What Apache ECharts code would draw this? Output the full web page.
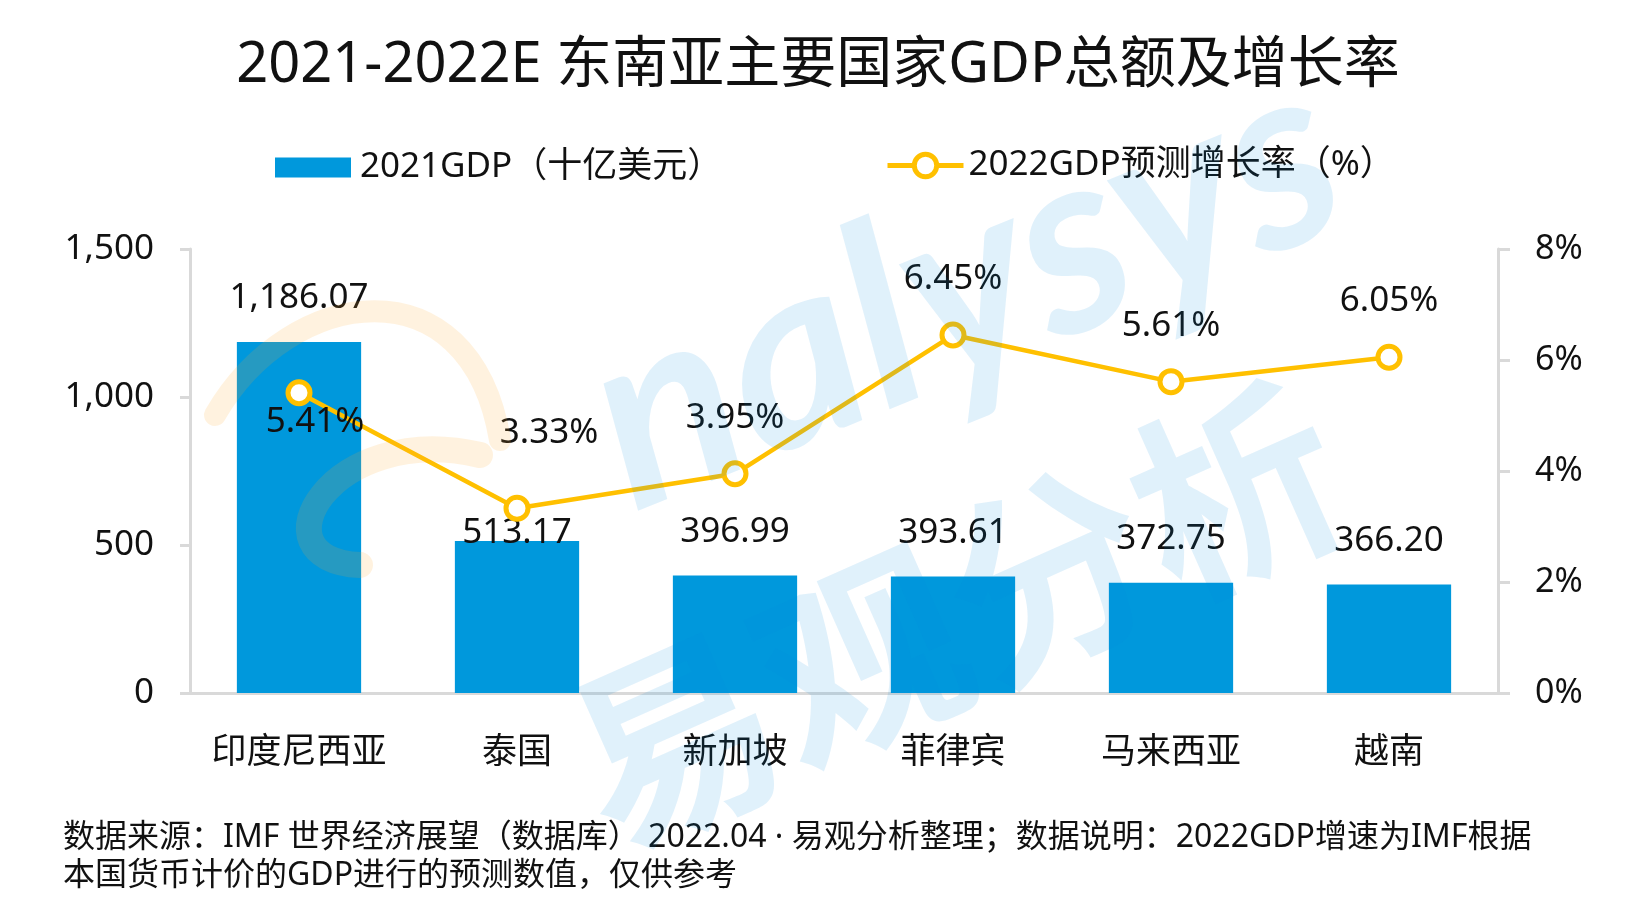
<!DOCTYPE html>
<html>
<head>
<meta charset="utf-8">
<script src="https://cdn.jsdelivr.net/npm/echarts@6/dist/echarts.min.js"></script>
<style>
html,body{margin:0;padding:0;background:#fff;}
#chart{width:1636px;height:909px;}
</style>
</head>
<body>
<div id="chart"></div>
<script>
const titleText = '2021-2022E 东南亚主要国家GDP总额及增长率';
const categories = ['印度尼西亚', '泰国', '新加坡', '菲律宾', '马来西亚', '越南'];
const gdp2021 = [1186.07, 513.17, 396.99, 393.61, 372.75, 366.20];
const growth2022 = [5.41, 3.33, 3.95, 6.45, 5.61, 6.05];
const barName = '2021GDP（十亿美元）';
const lineName = '2022GDP预测增长率（%）';
const leftTicks = [0, 500, 1000, 1500];
const rightTicks = [0, 2, 4, 6, 8];
const footerLines = [
  '数据来源：IMF 世界经济展望（数据库） 2022.04 · 易观分析整理；数据说明：2022GDP增速为IMF根据',
  '本国货币计价的GDP进行的预测数值，仅供参考'
];

// label nudges (style only)
const barLabelOffset = [[0,0],[0,35],[0,0],[0,0],[0,0],[0,0]];
const lineLabelOffset = [[16,85],[32,-19],[0,0],[0,0],[0,0],[0,0]];

const FONT = "'Noto Sans', 'Noto Sans CJK SC', sans-serif";
const TXT = '#111';
const AXIS = '#d9d9d9';

const chart = echarts.init(document.getElementById('chart'), null, {renderer:'canvas'});

const fmtBar = v => Number(v).toLocaleString('en-US', {minimumFractionDigits:2, maximumFractionDigits:2});

const option = {
  backgroundColor: '#fff',
  animation: false,
  textStyle: {fontFamily: FONT, color: TXT},
  title: {
    text: titleText,
    left: 'center',
    top: 33,
    textStyle: {fontFamily: FONT, fontSize: 56, fontWeight: 'normal', color: TXT}
  },
  legend: [
    {
      data: [{name: barName, icon: 'rect'}], left: 275, top: 150, padding: 0,
      itemWidth: 76, itemHeight: 20,
      textStyle: {fontFamily: FONT, fontSize: 35, color: TXT, padding:[0,0,0,4]}
    },
    {
      data: [lineName], left: 885, top: 148, padding: 0,
      itemWidth: 76, itemHeight: 28,
      lineStyle: {width: 5, color: '#FFC000'},
      itemStyle: {color: '#fff', borderColor: '#FFC000', borderWidth: 5},
      textStyle: {fontFamily: FONT, fontSize: 35, color: TXT, padding:[0,0,0,0]}
    }
  ],
  grid: {left: 190, right: 138, top: 249, bottom: 216, containLabel: false},
  xAxis: {
    type: 'category',
    data: categories,
    axisLine: {lineStyle: {color: AXIS, width: 3}},
    axisTick: {show: false},
    axisLabel: {fontFamily: FONT, fontSize: 35, color: TXT, margin: 43, interval: 0}
  },
  yAxis: [
    {
      type: 'value', min: leftTicks[0], max: leftTicks[leftTicks.length-1], interval: 500,
      axisLine: {show: true, lineStyle: {color: AXIS, width: 3}},
      axisTick: {show: true, length: 10, lineStyle: {color: AXIS, width: 3}},
      splitLine: {show: false},
      axisLabel: {fontFamily: FONT, fontSize: 35, color: TXT, margin: 36,
        formatter: v => Number(v).toLocaleString('en-US')}
    },
    {
      type: 'value', min: rightTicks[0], max: rightTicks[rightTicks.length-1], interval: 2,
      position: 'right',
      axisLine: {show: true, lineStyle: {color: AXIS, width: 3}},
      axisTick: {show: true, length: 12, lineStyle: {color: AXIS, width: 3}},
      splitLine: {show: false},
      axisLabel: {fontFamily: FONT, fontSize: 34, color: TXT, margin: 37, formatter: '{value}%'}
    }
  ],
  series: [
    {
      name: barName,
      type: 'bar',
      yAxisIndex: 0,
      barWidth: '57%',
      itemStyle: {color: '#0098DC'},
      data: gdp2021.map((v,i) => ({value: v, label: {offset: barLabelOffset[i]}})),
      label: {
        show: true, position: 'top', distance: 26,
        fontFamily: FONT, fontSize: 35, color: TXT, lineHeight: 35,
        formatter: p => fmtBar(p.value)
      },
      z: 2
    },
    {
      name: lineName,
      type: 'line',
      yAxisIndex: 1,
      color: '#FFC000',
      symbol: 'circle',
      symbolSize: 22,
      lineStyle: {color: '#FFC000', width: 4.5},
      itemStyle: {color: '#fff', borderColor: '#FFC000', borderWidth: 5},
      data: growth2022.map((v,i) => ({value: v, label: {offset: lineLabelOffset[i]}})),
      label: {
        show: true, position: 'top', distance: 25,
        fontFamily: FONT, fontSize: 35, color: TXT, lineHeight: 35,
        formatter: p => Number(p.value).toFixed(2) + '%'
      },
      z: 5
    }
  ],
  graphic: [
    // watermark
    {
      type: 'text', z: 100, silent: true,
      x: 965, y: 290, rotation: 22 * Math.PI / 180,
      style: {
        text: 'nalysys', fill: 'rgba(0,140,220,0.12)',
        font: "italic bold 255px 'Lato', 'Noto Sans', sans-serif",
        textAlign: 'center', textVerticalAlign: 'middle'
      }
    },
    {
      type: 'text', z: 100, silent: true,
      x: 955, y: 615, rotation: 24 * Math.PI / 180,
      style: {
        text: '易观分析', fill: 'rgba(0,140,220,0.12)',
        font: "bold 205px 'Noto Sans CJK SC', sans-serif",
        textAlign: 'center', textVerticalAlign: 'middle'
      }
    },
    {
      type: 'bezierCurve', z: 100, silent: true,
      shape: {x1: 215, y1: 415, cpx1: 290, cpy1: 285, cpx2: 470, cpy2: 260, x2: 500, y2: 440},
      style: {stroke: 'rgba(255,165,40,0.15)', lineWidth: 22, fill: null, lineCap: 'round'}
    },
    {
      type: 'bezierCurve', z: 100, silent: true,
      shape: {x1: 480, y1: 455, cpx1: 330, cpy1: 420, cpx2: 250, cpy2: 560, x2: 360, y2: 565},
      style: {stroke: 'rgba(255,165,40,0.15)', lineWidth: 26, fill: null, lineCap: 'round'}
    },
    // footer
    {
      type: 'text', left: 63, top: 819, silent: true,
      style: {
        text: footerLines.join('\n'),
        font: "32px 'Noto Sans', 'Noto Sans CJK SC', sans-serif",
        fill: TXT, lineHeight: 38
      }
    }
  ]
};
chart.setOption(option);
</script>
</body>
</html>
